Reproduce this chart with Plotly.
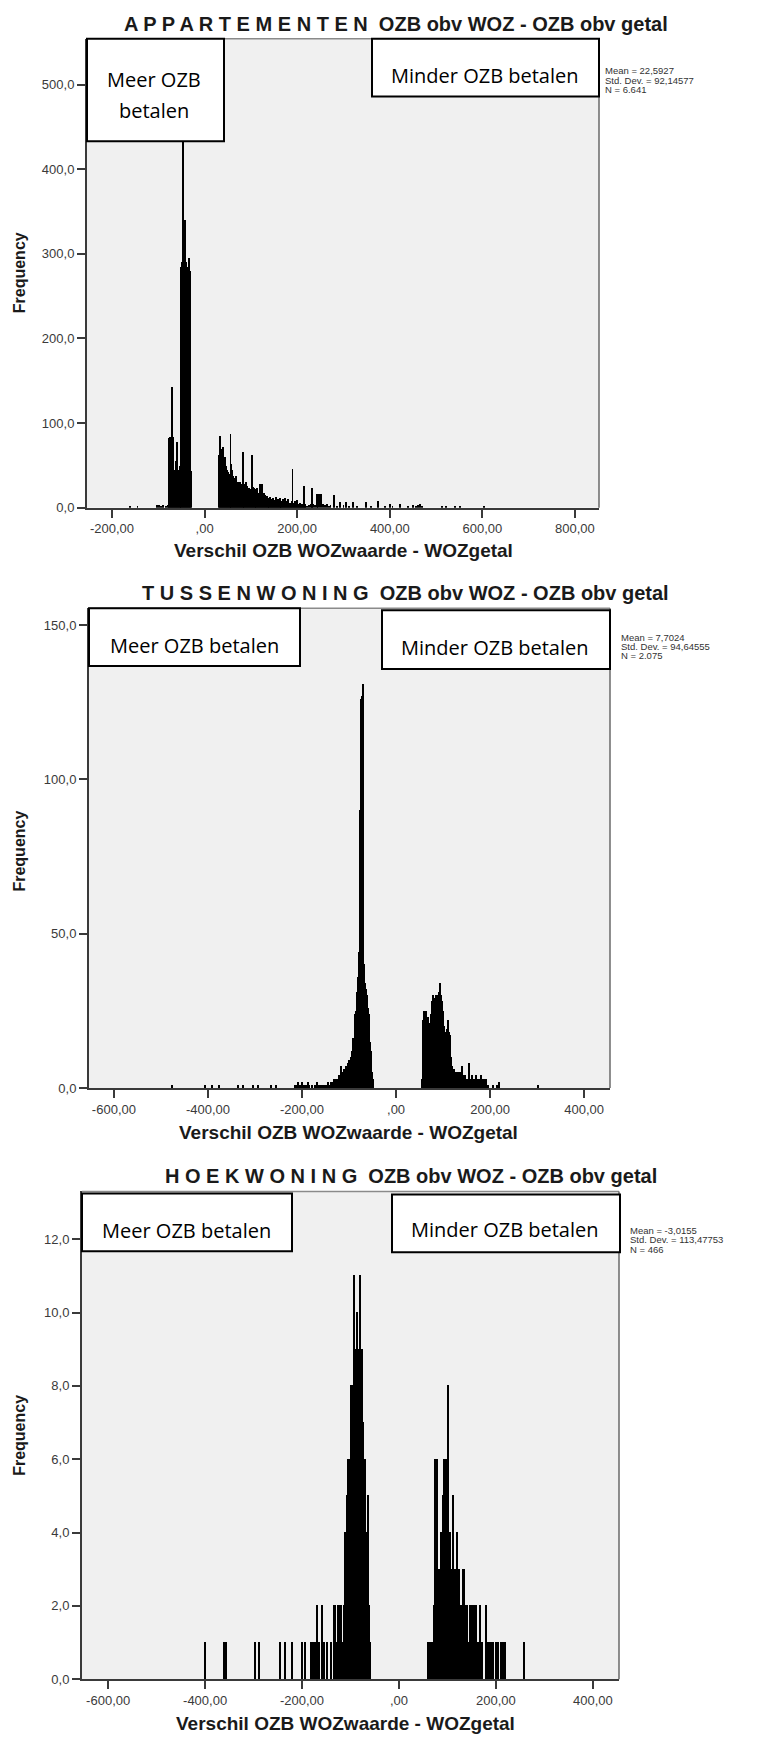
import plotly.graph_objects as go

W, H = 776, 1740

# ---------------- data ----------------
appt_x = [-162, -145, -102, -98, -94, -89, -84, -80,
          -76, -74, -72, -70, -68, -66, -64, -62, -60, -58, -56, -54, -52, -50,
          -48, -46, -44, -42, -40, -38, -36, -34, -32, -30,
          32, 34, 36, 38, 40, 42, 44, 46, 48, 50,
          52, 54, 56, 58, 60, 62, 64, 66, 68, 70,
          72, 74, 76, 78, 80, 82, 84, 86, 88, 90,
          92, 94, 96, 98, 100, 102, 104, 106, 108, 110,
          112, 114, 116, 118, 120, 122, 124, 126, 128, 130,
          132, 134, 136, 138, 140, 142, 144, 146, 148, 150,
          152, 154, 156, 158, 160, 162, 164, 166, 168, 170,
          172, 174, 176, 178, 180, 182, 184, 186, 188, 190,
          192, 194, 196, 198, 200, 202, 204, 206, 208, 210,
          212, 214, 216, 218,
          222, 226, 230, 232, 234, 238, 242, 244, 248, 252,
          256, 260, 264, 268, 272, 280, 286, 292, 300, 306,
          312, 320, 330, 349, 360, 375, 390, 400, 406, 422,
          440, 450, 456, 462, 466, 470, 512, 522, 540, 552, 604]
appt_y = [2, 2, 3, 3, 2, 3, 2, 3,
          82, 84, 60, 143, 84, 45, 40, 55, 78, 45, 42, 50, 160, 285,
          290, 530, 300, 340, 290, 285, 280, 295, 280, 43,
          63, 85, 45, 70, 72, 55, 60, 50, 45, 42,
          38, 40, 87, 52, 45, 38, 35, 30, 38, 28,
          30, 25, 30, 28, 26, 66, 32, 28, 25, 30,
          26, 22, 24, 22, 20, 62, 25, 24, 20, 22,
          18, 24, 16, 18, 28, 18, 28, 16, 18, 15,
          12, 14, 10, 12, 9, 13, 8, 10, 12, 7,
          9, 13, 6, 10, 7, 12, 6, 8, 5, 10,
          6, 12, 5, 8, 10, 5, 6, 4, 8, 46,
          6, 4, 8, 5, 9, 4, 3, 6, 3, 4,
          3, 26, 3, 4,
          2, 3, 5, 24, 4, 3, 16, 6, 16, 16,
          5, 3, 4, 2, 3, 15, 2, 7, 3, 7,
          2, 7, 2, 7, 2, 8, 2, 4, 2, 4,
          2, 3, 2, 3, 4, 2, 2, 2, 2, 2, 1]

tussen_x = [-477, -407, -392, -377, -336, -325, -304, -294, -265, -256,
            -216, -212, -208, -204, -200, -196, -192, -188, -184, -178,
            -172, -168, -164, -160, -156, -152,
            -148, -146, -144, -142, -140, -138, -136, -134, -132, -130,
            -128, -126, -124, -122, -120, -118, -116, -114, -112, -110,
            -108, -106, -104, -102, -100, -98, -96, -94, -92, -90,
            -88, -86, -84, -82, -80, -78, -76, -74, -72, -70,
            -68, -66, -64, -62, -60, -58, -56, -54, -52, -50, -48,
            56, 58, 60, 62, 64, 66, 68, 70, 72, 74,
            76, 78, 80, 82, 84, 86, 88, 90, 92, 94,
            96, 98, 100, 102, 104, 106, 108, 110, 112, 114,
            116, 118, 120, 122, 124, 126, 128, 130, 132, 134,
            136, 138, 140, 142, 144, 146, 148, 150, 152, 154,
            156, 158, 160, 162, 164, 166, 168, 170, 172, 174,
            176, 178, 180, 182, 184, 186, 188, 190, 192,
            196, 206, 214, 218, 220, 302]
tussen_y = [1, 1, 1, 1, 1, 1, 1, 1, 1, 1,
            1, 1, 2, 1, 2, 1, 1, 2, 1, 1,
            1, 2, 1, 1, 1, 1,
            1, 1, 2, 1, 1, 2, 2, 1, 3, 2,
            3, 1, 3, 4, 3, 7, 3, 4, 5, 6,
            6, 7, 5, 8, 9, 9, 10, 12, 16, 14,
            24, 25, 31, 30, 36, 44, 90, 126, 127, 131,
            40, 34, 32, 30, 26, 24, 15, 12, 5, 3, 1,
            3, 22, 25, 24, 25, 20, 23, 21, 20, 24,
            28, 30, 27, 29, 30, 28, 30, 29, 31, 34,
            30, 28, 25, 20, 16, 18, 19, 22, 18, 17,
            10, 7, 6, 5, 6, 5, 5, 4, 5, 5,
            4, 5, 7, 4, 3, 4, 3, 3, 2, 3,
            8, 3, 2, 4, 3, 2, 3, 4, 2, 3,
            2, 3, 4, 2, 3, 2, 3, 3, 3,
            1, 1, 1, 2, 1, 1]

hoek_x = [-399, -361, -357, -297, -289, -246, -234, -221, -200, -193,
          -182, -178, -173, -169, -164, -159, -154, -149, -141, -134,
          -131, -128, -125, -122, -119, -116, -113,
          -111, -109, -107, -105, -103, -101, -99, -97, -95, -93,
          -91, -89, -87, -85, -83, -81, -79, -77, -75, -73,
          -71, -69, -67, -65, -63, -61, -59,
          60, 63, 66, 69, 72, 74, 77, 79, 82, 85,
          88, 91, 94, 97, 99, 101, 103, 106, 108, 111,
          114, 117, 119, 121, 124, 127, 129, 132, 135, 138,
          141, 144, 147, 150, 153, 156, 159, 162, 165, 168,
          172, 179, 183, 186, 190, 195, 200, 205, 211, 215,
          219, 259]
hoek_y = [1, 1, 1, 1, 1, 1, 1, 1, 1, 1,
          1, 1, 1, 2, 1, 2, 1, 1, 1, 2,
          2, 1, 2, 2, 2, 1, 2,
          4, 4, 5, 6, 4, 6, 8, 6, 8, 11,
          8, 9, 10, 8, 9, 11, 8, 9, 6, 7,
          5, 6, 4, 4, 5, 2, 1,
          1, 1, 1, 1, 2, 6, 2, 6, 3, 3,
          4, 5, 6, 6, 4, 8, 4, 4, 3, 5,
          3, 3, 2, 4, 3, 2, 2, 3, 3, 2,
          2, 1, 2, 2, 1, 2, 2, 1, 1, 2,
          1, 2, 1, 1, 1, 1, 1, 1, 1, 1,
          1, 1]

titles = ["A P P A R T E M E N T E N", "T U S S E N W O N I N G", "H O E K W O N I N G"]
subtitle = "OZB obv WOZ - OZB obv getal"
stats = [["Mean = 22,5927", "Std. Dev. = 92,14577", "N = 6.641"],
         ["Mean = 7,7024", "Std. Dev. = 94,64555", "N = 2.075"],
         ["Mean = -3,0155", "Std. Dev. = 113,47753", "N = 466"]]

y1_ticks = [0, 100, 200, 300, 400, 500]
y1_text = ["0,0", "100,0", "200,0", "300,0", "400,0", "500,0"]
y2_ticks = [0, 50, 100, 150]
y2_text = ["0,0", "50,0", "100,0", "150,0"]
y3_ticks = [0, 2, 4, 6, 8, 10, 12]
y3_text = ["0,0", "2,0", "4,0", "6,0", "8,0", "10,0", "12,0"]
x1_ticks = [-200, 0, 200, 400, 600, 800]
x1_text = ["-200,00", ",00", "200,00", "400,00", "600,00", "800,00"]
x23_ticks = [-600, -400, -200, 0, 200, 400]
x23_text = ["-600,00", "-400,00", "-200,00", ",00", "200,00", "400,00"]

# ---------------- layout geometry (pixels) ----------------
def px(x):
    return x / W

def py(y):
    return 1 - y / H

panels = [
    dict(l=87, r=599, t=39, b=510, xr=[-254, 852], yr=[0, 554]),
    dict(l=89, r=610, t=611, b=1093, xr=[-653, 455], yr=[0, 155.5]),
    dict(l=82, r=619, t=1197, b=1687, xr=[-654, 454], yr=[0, 13.3]),
]

fig = go.Figure()
series = [(appt_x, appt_y, 2.0), (tussen_x, tussen_y, 2.0), (hoek_x, hoek_y, 2.6)]
for i, (xs, ys, wdt) in enumerate(series):
    suf = "" if i == 0 else str(i + 1)
    fig.add_trace(go.Bar(x=xs, y=ys, width=wdt, xaxis="x" + suf, yaxis="y" + suf,
                         marker=dict(color="black", line=dict(width=0)),
                         hoverinfo="x+y"))

TICKFONT = dict(family="Liberation Sans, Arial", size=13, color="#3a3a3a")
yticks = [(y1_ticks, y1_text), (y2_ticks, y2_text), (y3_ticks, y3_text)]
xticks = [(x1_ticks, x1_text), (x23_ticks, x23_text), (x23_ticks, x23_text)]

layout = dict(width=W, height=H, margin=dict(l=0, r=0, t=0, b=0),
              paper_bgcolor="white", plot_bgcolor="#f0f0f0", showlegend=False,
              bargap=0)
for i, p in enumerate(panels):
    suf = "" if i == 0 else str(i + 1)
    layout["xaxis" + suf] = dict(domain=[px(p["l"]), px(p["r"])], range=p["xr"],
                                 anchor="y" + suf, tickvals=xticks[i][0], ticktext=xticks[i][1],
                                 ticks="outside", ticklen=8, tickwidth=1.5, tickcolor="#3a3a3a",
                                 showline=True, linecolor="#3a3a3a", linewidth=2,
                                 showgrid=False, zeroline=False, tickfont=TICKFONT, fixedrange=True)
    layout["yaxis" + suf] = dict(domain=[py(p["b"]), py(p["t"])], range=p["yr"],
                                 anchor="x" + suf, tickvals=yticks[i][0], ticktext=yticks[i][1],
                                 ticks="outside", ticklen=8, tickwidth=1.5, tickcolor="#3a3a3a",
                                 showline=True, linecolor="#3a3a3a", linewidth=2,
                                 showgrid=False, zeroline=False, tickfont=TICKFONT, fixedrange=True)
fig.update_layout(**layout)

shapes = []
annotations = []

def ann(x, y, text, size, family="Liberation Sans, Arial", color="#1a1a1a",
        xanchor="center", yanchor="middle", angle=0):
    annotations.append(dict(x=px(x), y=py(y), xref="paper", yref="paper", text=text,
                            showarrow=False, xanchor=xanchor, yanchor=yanchor,
                            textangle=angle, font=dict(family=family, size=size, color=color)))

# frame lines top / right
for p in panels:
    shapes.append(dict(type="line", xref="paper", yref="paper", x0=px(p["l"]), x1=px(p["r"]),
                       y0=py(p["t"]), y1=py(p["t"]), line=dict(color="#8a8a8a", width=1.5), layer="above"))
    shapes.append(dict(type="line", xref="paper", yref="paper", x0=px(p["r"]), x1=px(p["r"]),
                       y0=py(p["t"]), y1=py(p["b"]), line=dict(color="#6a6a6a", width=1.5), layer="above"))

# label boxes: (x0, y0, x1, y1)
boxes = [
    (87, 39, 224, 142), (372, 39, 599, 97),
    (89, 611, 300, 669), (382, 613, 610, 672),
    (82, 1199, 292, 1257), (392, 1200, 620, 1258),
]
for (x0, y0, x1, y1) in boxes:
    shapes.append(dict(type="rect", xref="paper", yref="paper", x0=px(x0), x1=px(x1),
                       y0=py(y0), y1=py(y1), fillcolor="white",
                       line=dict(color="black", width=2), layer="above"))

BOXFONT = "Open Sans, Noto Sans, sans-serif"
ann(154, 80, "Meer OZB", 20, BOXFONT, "black")
ann(154, 111, "betalen", 20, BOXFONT, "black")
ann(485, 76, "Minder OZB betalen", 20, BOXFONT, "black")
ann(194, 648, "Meer OZB betalen", 20, BOXFONT, "black")
ann(495, 650, "Minder OZB betalen", 20, BOXFONT, "black")
ann(186, 1236, "Meer OZB betalen", 20, BOXFONT, "black")
ann(505, 1235, "Minder OZB betalen", 20, BOXFONT, "black")

# chart titles
title_pos = [(396, 24), (405, 596), (411, 1181)]
for t, (x, y) in zip(titles, title_pos):
    ann(x, y, "<b>" + t + "\u00a0\u00a0" + subtitle + "</b>", 20)

# stats
stat_pos = [(603, [71, 80.5, 90]), (619, [640, 649.5, 659]), (628, [1236, 1245.5, 1255])]
for s, (x, ys) in zip(stats, stat_pos):
    for line, y in zip(s, ys):
        ann(x, y, line, 9.5, color="#333333", xanchor="left")

# axis titles
xt_pos = [(343, 553), (348, 1138), (345, 1731)]
for (x, y) in xt_pos:
    ann(x, y, "<b>Verschil OZB WOZwaarde - WOZgetal</b>", 19)
yt_pos = [(19.5, 274), (19.5, 855), (19.5, 1442)]
for (x, y) in yt_pos:
    ann(x, y, "<b>Frequency</b>", 16, angle=-90)

fig.update_layout(shapes=shapes, annotations=annotations)
fig.write_html("out.html")
